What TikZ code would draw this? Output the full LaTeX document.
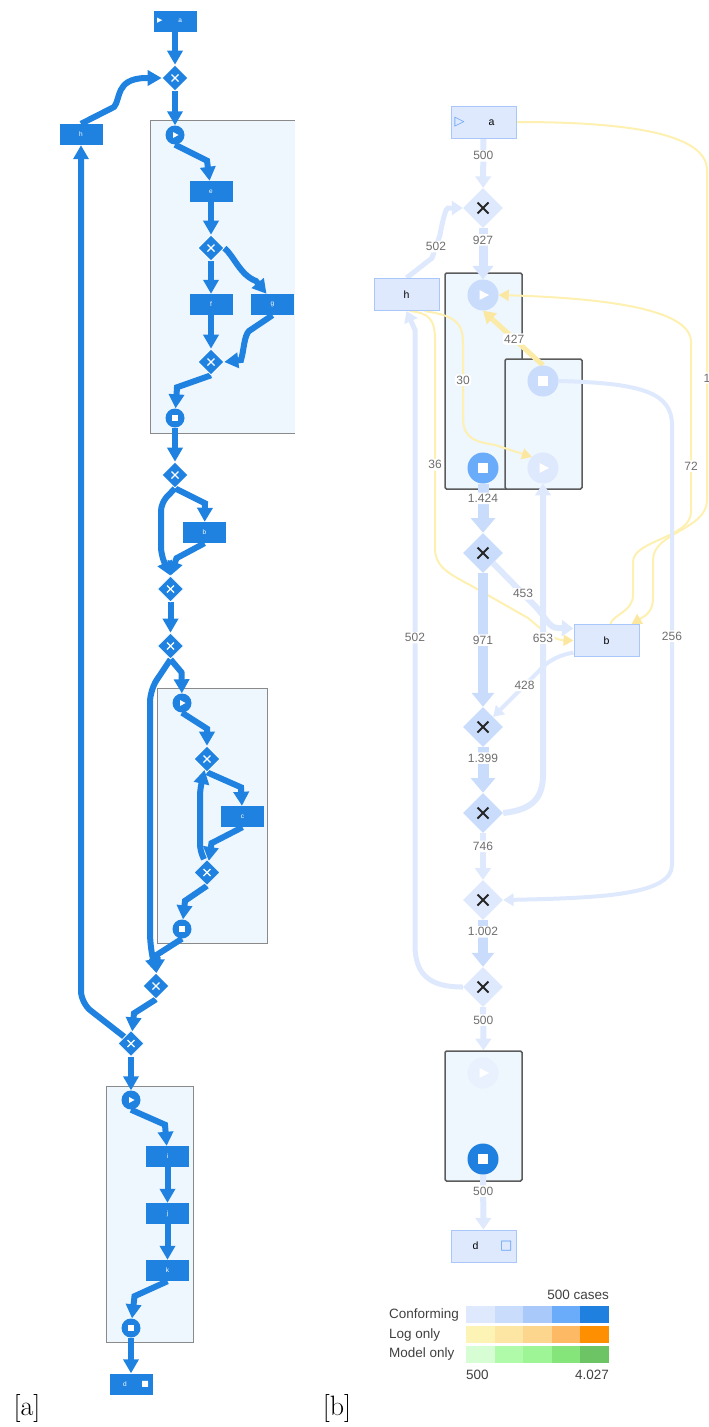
\documentclass[tikz,border=0pt]{standalone}
\usepackage{fontspec}
\setsansfont{Liberation Sans}
\newfontfamily\symfont{DejaVu Sans}
\usetikzlibrary{shapes.geometric,arrows.meta,positioning}

\definecolor{ablue}{HTML}{1F82E0}
\definecolor{spfill}{HTML}{EEF6FE}
\definecolor{spline}{HTML}{8A8A8A}
\definecolor{spdark}{HTML}{5C5C5C}
\definecolor{cfA}{HTML}{DFE9FD}
\definecolor{cfB}{HTML}{C9DCFC}
\definecolor{cfC}{HTML}{A9C9FB}
\definecolor{cfD}{HTML}{6AABFA}
\definecolor{cfE}{HTML}{1F80E0}
\definecolor{loA}{HTML}{FDF3B5}
\definecolor{loB}{HTML}{FDE6A4}
\definecolor{loC}{HTML}{FDD68D}
\definecolor{loD}{HTML}{FDB964}
\definecolor{loE}{HTML}{FD8F00}
\definecolor{moA}{HTML}{D7FDD4}
\definecolor{moB}{HTML}{B0FBA9}
\definecolor{moC}{HTML}{9DF595}
\definecolor{moD}{HTML}{85E57B}
\definecolor{moE}{HTML}{6DC464}
\definecolor{ylw}{HTML}{FDF0B0}
\definecolor{ylwdark}{HTML}{FCE7A0}
\definecolor{tbord}{HTML}{A9C7FA}
\definecolor{tsym}{HTML}{5A9CF5}
\definecolor{lblgray}{HTML}{6E6E6E}

\pgfdeclarelayer{bg}
\pgfdeclarelayer{edges}
\pgfsetlayers{bg,edges,main}

\begin{document}
\begin{tikzpicture}[x=1pt, y=-1pt,
  atask/.style={rectangle, fill=ablue, text=white, minimum width=43pt, minimum height=21pt,
    inner sep=0pt, font=\sffamily\fontsize{6.5}{7}\selectfont},
  agate/.style={diamond, fill=ablue, draw=white, line width=0.6pt, minimum width=26pt,
    minimum height=26pt, inner sep=0pt,
    path picture={\draw[white, line width=1.3pt] (path picture bounding box.center)
      +(-3.5,-3.5) -- +(3.5,3.5) +(-3.5,3.5) -- +(3.5,-3.5);}},
  astart/.style={circle, fill=ablue, minimum size=19pt, inner sep=0pt,
    path picture={\fill[white] (path picture bounding box.center) +(-2,-3) -- +(3.5,0) -- +(-2,3) -- cycle;}},
  aend/.style={circle, fill=ablue, minimum size=19pt, inner sep=0pt,
    path picture={\fill[white] (path picture bounding box.center) +(-3,-3) rectangle +(3,3);}},
  aedge/.style={draw=ablue, line width=6pt, -{Triangle[length=14pt,width=15pt]}},
  spbox/.style={fill=spfill, draw=spline, line width=1pt, inner sep=0pt},
  bspbox/.style={fill=spfill, draw=spdark, line width=1.5pt, inner sep=0pt, rounded corners=1.5pt},
  btask/.style={rectangle, fill=cfA, draw=tbord, line width=1pt, minimum width=65pt,
    minimum height=32pt, inner sep=0pt, font=\sffamily\fontsize{10.5}{12}\selectfont},
  bgate/.style={diamond, fill=#1, minimum width=40pt, minimum height=40pt, inner sep=0pt,
    path picture={\draw[black!85, line width=2pt] (path picture bounding box.center)
      +(-5.5,-5.5) -- +(5.5,5.5) +(-5.5,5.5) -- +(5.5,-5.5);}},
  bstart/.style={circle, fill=#1, minimum size=31pt, inner sep=0pt,
    path picture={\fill[white] (path picture bounding box.center) +(-3.5,-5) -- +(6,0) -- +(-3.5,5) -- cycle;}},
  bstop/.style={circle, fill=#1, minimum size=31pt, inner sep=0pt,
    path picture={\fill[white] (path picture bounding box.center) +(-5,-5) rectangle +(5,5);}},
  bedge/.style={draw=cfA, line width=#1, -{Triangle[length=8pt 0.6, width=6pt 1.6]}},
  yedge/.style={draw=ylw, line width=2pt, -{Triangle[length=10pt, width=11pt, color=ylwdark]}},
  blabel/.style={fill=white, text=lblgray, inner sep=1.5pt, rounded corners=3pt,
    font=\sffamily\fontsize{12}{13}\selectfont},
  legtext/.style={text=black!75, inner sep=0pt, font=\sffamily\fontsize{13.5}{15}\selectfont}]
\useasboundingbox (0,0) rectangle (709,1427);

% panel a
\begin{pgfonlayer}{bg}
  \fill[spfill] (150,120) rectangle (295,433);
  \draw[spline, line width=1pt] (295,120) -- (150,120) -- (150,433) -- (295,433);
  \node[spbox, minimum width=110pt, minimum height=255pt] (spa2) at (212,815.5) {};
  \node[spbox, minimum width=87pt, minimum height=256pt] (spa3) at (149.5,1214) {};
\end{pgfonlayer}

\node[atask] (a) at (175,21) {\makebox[36pt]{{\symfont\fontsize{7}{7}\selectfont ▶}\hfill a\hspace{11pt}}};
\node[agate] (gA1) at (175,78) {};
\node[atask] (h) at (81,134.5) {h};
\node[astart] (sA1) at (175,135) {};
\node[atask] (e) at (211,191.5) {e};
\node[agate] (gA2) at (211,248) {};
\node[atask] (f) at (211,304.5) {f};
\node[atask] (g) at (272.5,304.5) {g};
\node[agate] (gA3) at (211,362) {};
\node[aend] (eA1) at (175,418) {};
\node[agate] (gA4) at (175,475) {};
\node[atask] (b) at (204.5,532.5) {b};
\node[agate] (gA5) at (170.5,589) {};
\node[agate] (gA6) at (170.5,646) {};
\node[astart] (sA2) at (182,703) {};
\node[agate] (gA7) at (207,759) {};
\node[atask] (c) at (242.5,816.5) {c};
\node[agate] (gA8) at (207,872.5) {};
\node[aend] (eA2) at (182,929) {};
\node[agate] (gA9) at (156,986) {};
\node[agate] (gA10) at (131,1043.5) {};
\node[astart] (sA3) at (131,1100) {};
\node[atask] (i) at (167.5,1156.5) {i};
\node[atask] (j) at (167.5,1213.5) {j};
\node[atask] (k) at (167.5,1270.5) {k};
\node[aend] (eA3) at (131,1328) {};
\node[atask] (d) at (131,1384) {\makebox[36pt]{\hspace{10pt}d\hfill{\symfont\fontsize{8}{8}\selectfont ■}}};

\begin{pgfonlayer}{edges}
  \draw[aedge] (a) -- (gA1);
  \draw[aedge] (h.north) -- (114,107) .. controls (121,99) and (115,79) .. (145,78) -- (gA1.west);
  \draw[aedge] (gA1) -- (sA1);
  \draw[aedge] (sA1.south) -- ++(32,16) -- (e);
  \draw[aedge] (e) -- (gA2);
  \draw[aedge] (gA2) -- (f);
  \draw[aedge] (gA2.east) .. controls (234,256) and (240,275) .. (256,281) -- ([xshift=-6pt]g.north);
  \draw[aedge] (f) -- (gA3);
  \draw[aedge] (g.south) -- (249,331) .. controls (244,336) and (244,350) .. (241,360) -- (gA3.east);
  \draw[aedge] (gA3.south) -- ++(-34,12) -- (eA1);
  \draw[aedge] (eA1) -- (gA4);
  \draw[aedge] (gA4.south) -- ++(30,15) -- (b);
  \draw[aedge, rounded corners=8pt] (gA4.south) -- (161,503) -- (161,555) -- (gA5.north);
  \draw[aedge] (b.south) -- ++(-28,15) -- (gA5.north);
  \draw[aedge] (gA5) -- (gA6);
  \draw[aedge] (gA6.south) -- ++(11,13) -- (sA2);
  \draw[aedge, rounded corners=12pt] (gA6.south) -- (150,690) -- (150,945) -- (gA9.north);
  \draw[aedge] (sA2.south) -- ++(25,16) -- (gA7);
  \draw[aedge] (gA7.south) -- ++(34,15) -- (c);
  \draw[aedge] (c.south) -- ++(-31,16) -- (gA8);
  \draw[aedge, rounded corners=6pt] ([xshift=-3pt]gA8.north) -- (200,850) -- (200,790) -- (gA7);
  \draw[aedge] (gA8.south) -- ++(-22,15) -- (eA2);
  \draw[aedge] (eA2.south) -- ++(-25,16) -- (gA9);
  \draw[aedge] (gA9.south) -- ++(-22,14) -- (gA10);
  \draw[aedge, rounded corners=12pt] (gA10.north west) -- (81,1003) -- (h.south);
  \draw[aedge] (gA10) -- (sA3);
  \draw[aedge] (sA3.south) -- ++(34,15) -- (i);
  \draw[aedge] (i) -- (j);
  \draw[aedge] (j) -- (k);
  \draw[aedge] (k.south) -- ++(-33,15) -- (eA3);
  \draw[aedge] (eA3) -- (d);
\end{pgfonlayer}

% panel b
\begin{pgfonlayer}{bg}
  \node[bspbox, minimum width=77pt, minimum height=216pt] (spb1) at (483.5,381) {};
  \node[bspbox, minimum width=77pt, minimum height=130pt] (spb2) at (543.5,424) {};
  \node[bspbox, minimum width=77pt, minimum height=130pt] (spb3) at (483.5,1116) {};
\end{pgfonlayer}

\node[btask] (ba) at (483.5,122) {\makebox[58pt]{{\symfont\fontsize{13}{13}\selectfont\textcolor{tsym}{▷}}\hfill a\hspace{18pt}}};
\node[btask] (bh) at (406.5,294.5) {h};
\node[bgate=cfA] (bg1) at (483,208) {};
\node[bstart=cfB] (bs1) at (483,295) {};
\node[bstop=cfB] (be2) at (543,381) {};
\node[bstart=cfA] (bs2) at (543,468) {};
\node[bstop=cfD] (be1) at (483,468) {};
\node[bgate=cfB] (bg2) at (483,553) {};
\node[btask] (bb) at (606.5,640.5) {b};
\node[bgate=cfB] (bg3) at (483,727) {};
\node[bgate=cfB] (bg4) at (483,813) {};
\node[bgate=cfA] (bg5) at (483,900) {};
\node[bgate=cfA] (bg6) at (483,987) {};
\node[bstart=cfA!70!white] (bs3) at (483,1073) {};
\node[bstop=cfE] (be3) at (483,1159) {};
\node[btask] (bd) at (483.5,1246) {\makebox[58pt]{\hspace{18pt}d\hfill{\symfont\fontsize{13}{13}\selectfont\textcolor{tsym}{□}}}};

\begin{pgfonlayer}{edges}
  \draw[yedge] (ba.east) .. controls (600,122) and (707,128) .. (707,170)
    -- node[blabel, pos=0.63]{1} (707,500) .. controls (707,530) and (653,532) .. (653,560)
    -- (653,598) .. controls (653,612) and (645,616) .. ([xshift=25pt]bb.north);
  \draw[yedge] ([xshift=4pt]bb.north) .. controls (612,615) and (633,612) .. (633,595)
    -- (633,562) .. controls (633,540) and (691,538) .. (691,512)
    -- node[blabel, pos=0.27]{72} (691,342) .. controls (691,308) and (600,298) .. (bs1.east);
  \draw[yedge] ([xshift=18pt]bh.south) .. controls (450,315) and (463,320) .. (463,342)
    -- node[blabel]{30} (463,418) .. controls (463,440) and (478,442) .. (495,445) -- (bs2.north west);
  \draw[yedge] ([xshift=3pt]bh.south) .. controls (428,313) and (435,318) .. (435,340)
    -- node[blabel, pos=0.6]{36} (435,548) .. controls (435,565) and (445,572) .. (470,585)
    -- (528,618) .. controls (540,628) and (552,640) .. (bb.west);
  \draw[yedge, line width=5pt, draw=ylwdark!60!ylw, -{Triangle[length=12pt, width=14pt, color=ylwdark]}]
    (be2.north) -- node[blabel, pos=0.48]{427} (bs1.south);

  \draw[bedge=6pt] (ba) -- node[blabel, pos=0.35]{500} (bg1);
  \draw[bedge=9pt, draw=cfA!60!cfB] (bg1) -- node[blabel, pos=0.23]{927} (bs1);
  \draw[bedge=5pt] (bh.north) -- (432,258) -- node[blabel]{502} (440,235)
    .. controls (443,218) and (446,208) .. (448,208) -- (bg1.west);
  \draw[bedge=11pt, draw=cfB] (be1) -- node[blabel, pos=0.3]{1.424} (bg2);
  \draw[bedge=10pt, draw=cfB] (bg2) -- node[blabel]{971} (bg3);
  \draw[bedge=6pt] (bg2.south east) -- node[blabel, pos=0.75]{453} (533,604)
    .. controls (545,615) and (548,628) .. (558,628) -- ([yshift=12pt]bb.west);
  \draw[bedge=4pt] ([yshift=-12pt]bb.west) .. controls (560,655) and (548,660) .. (538,672)
    -- node[blabel, pos=0.3]{428} (bg3.north east);
  \draw[bedge=11pt, draw=cfB] (bg3) -- node[blabel, pos=0.24]{1.399} (bg4);
  \draw[bedge=6pt] (bg4.east) .. controls (530,810) and (543,800) .. (543,775)
    -- node[blabel, pos=0.47]{653} (bs2.south);
  \draw[bedge=6pt] (bg4) -- node[blabel, pos=0.28]{746} (bg5);
  \draw[bedge=4pt] (be2.east) .. controls (640,383) and (672,392) .. (672,425)
    -- node[blabel, pos=0.48]{256} (672,865) .. controls (672,895) and (600,898) .. (bg5.east);
  \draw[bedge=10pt, draw=cfB] (bg5) -- node[blabel, pos=0.25]{1.002} (bg6);
  \draw[bedge=5pt] (bg6.west) .. controls (430,987) and (415,975) .. (415,945)
    -- node[blabel, pos=0.5]{502} (415,330) -- (bh.south);
  \draw[bedge=6pt] (bg6) -- node[blabel, pos=0.3]{500} (spb3.north);
  \draw[bedge=6pt] (be3) -- node[blabel, pos=0.3]{500} (bd);
\end{pgfonlayer}

% legend
\node[legtext, anchor=east] (lcases) at (609,1295) {500 cases};
\node[legtext, anchor=west] (lconf) at (389,1315) {Conforming};
\node[legtext, anchor=west] (llog) at (389,1335) {Log only};
\node[legtext, anchor=west] (lmod) at (389,1354) {Model only};
\foreach \c [count=\i from 0] in {cfA,cfB,cfC,cfD,cfE}
  \fill[\c] (466+28.6*\i,1306) rectangle ++(28.6,17);
\foreach \c [count=\i from 0] in {loA,loB,loC,loD,loE}
  \fill[\c] (466+28.6*\i,1326) rectangle ++(28.6,17);
\foreach \c [count=\i from 0] in {moA,moB,moC,moD,moE}
  \fill[\c] (466+28.6*\i,1346) rectangle ++(28.6,17);
\node[legtext, anchor=west] (lmin) at (466,1375) {500};
\node[legtext, anchor=east] (lmax) at (609,1375) {4.027};

\node[inner sep=0pt, font=\fontsize{28}{30}\selectfont] (capa) at (27,1408) {[a]};
\node[inner sep=0pt, font=\fontsize{28}{30}\selectfont] (capb) at (337,1408) {[b]};
\end{tikzpicture}
\end{document}
